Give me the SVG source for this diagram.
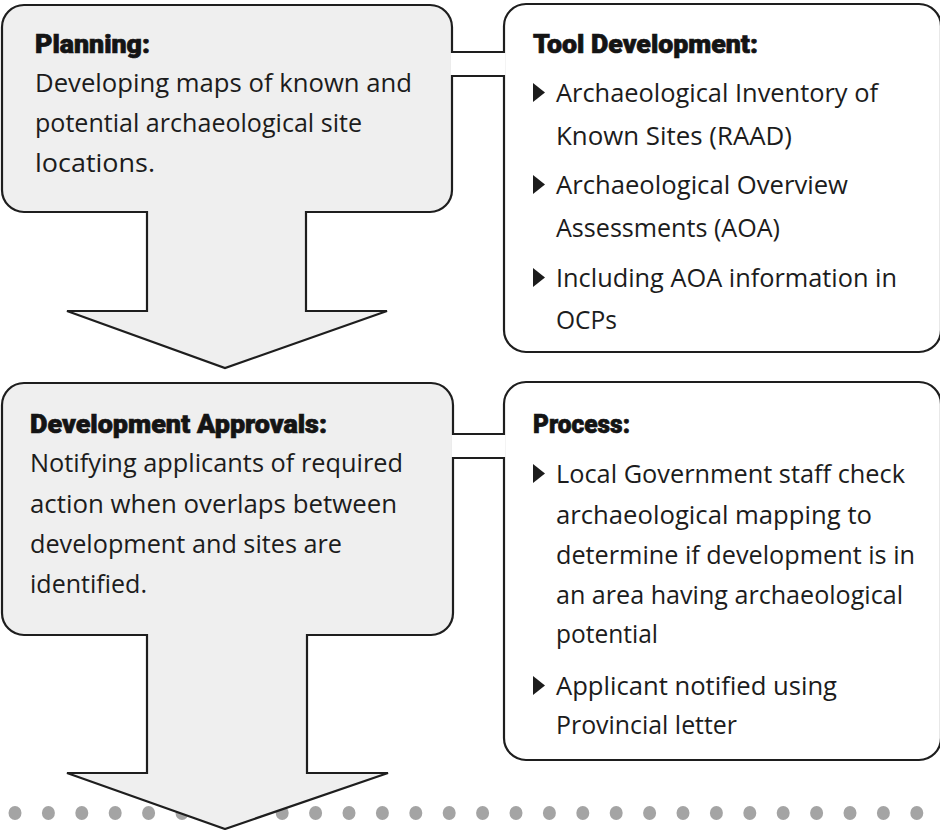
<svg xmlns="http://www.w3.org/2000/svg" width="940" height="830" viewBox="0 0 940 830">
  <style>
    .stage { fill: #efefef; stroke: #1e1e1e; stroke-width: 2.2; stroke-linejoin: miter; }
    .panel { fill: #ffffff; stroke: #1e1e1e; stroke-width: 2.2; }
    .channel { fill: #ffffff; stroke: none; }
    .link { stroke: #1e1e1e; stroke-width: 2.2; fill: none; }
    .dot { fill: #a4a4a4; }
    .head { font-family: Roboto, "Liberation Sans", sans-serif; font-weight: 900; font-size: 26px; fill: #141414; stroke: #141414; stroke-width: 0.7; }
    .body { font-family: "Open Sans", "Noto Sans", "Liberation Sans", sans-serif; font-size: 25.5px; fill: #1c1c1c; }
    .bullet { fill: #1c1c1c; }
  </style>

  <!-- dotted rule along the bottom -->
  <g id="dotted-rule">
    <ellipse class="dot" cx="15" cy="813" rx="6.5" ry="7"/>
    <ellipse class="dot" cx="48.4" cy="813" rx="6.5" ry="7"/>
    <ellipse class="dot" cx="81.8" cy="813" rx="6.5" ry="7"/>
    <ellipse class="dot" cx="115.2" cy="813" rx="6.5" ry="7"/>
    <ellipse class="dot" cx="148.6" cy="813" rx="6.5" ry="7"/>
    <ellipse class="dot" cx="182" cy="813" rx="6.5" ry="7"/>
    <ellipse class="dot" cx="215.4" cy="813" rx="6.5" ry="7"/>
    <ellipse class="dot" cx="248.8" cy="813" rx="6.5" ry="7"/>
    <ellipse class="dot" cx="282.2" cy="813" rx="6.5" ry="7"/>
    <ellipse class="dot" cx="315.6" cy="813" rx="6.5" ry="7"/>
    <ellipse class="dot" cx="349" cy="813" rx="6.5" ry="7"/>
    <ellipse class="dot" cx="382.4" cy="813" rx="6.5" ry="7"/>
    <ellipse class="dot" cx="415.8" cy="813" rx="6.5" ry="7"/>
    <ellipse class="dot" cx="449.2" cy="813" rx="6.5" ry="7"/>
    <ellipse class="dot" cx="482.6" cy="813" rx="6.5" ry="7"/>
    <ellipse class="dot" cx="516" cy="813" rx="6.5" ry="7"/>
    <ellipse class="dot" cx="549.4" cy="813" rx="6.5" ry="7"/>
    <ellipse class="dot" cx="582.8" cy="813" rx="6.5" ry="7"/>
    <ellipse class="dot" cx="616.2" cy="813" rx="6.5" ry="7"/>
    <ellipse class="dot" cx="649.6" cy="813" rx="6.5" ry="7"/>
    <ellipse class="dot" cx="683" cy="813" rx="6.5" ry="7"/>
    <ellipse class="dot" cx="716.4" cy="813" rx="6.5" ry="7"/>
    <ellipse class="dot" cx="749.8" cy="813" rx="6.5" ry="7"/>
    <ellipse class="dot" cx="783.2" cy="813" rx="6.5" ry="7"/>
    <ellipse class="dot" cx="816.6" cy="813" rx="6.5" ry="7"/>
    <ellipse class="dot" cx="850" cy="813" rx="6.5" ry="7"/>
    <ellipse class="dot" cx="883.4" cy="813" rx="6.5" ry="7"/>
    <ellipse class="dot" cx="916.8" cy="813" rx="6.5" ry="7"/>
  </g>

  <!-- Planning: box with its down arrow -->
  <g id="planning">
    <path class="stage" d="M24,5 H430 A22,22 0 0 1 452,27 V190 A22,22 0 0 1 430,212 H306 V311 H387 L225,368 L67,311 H147 V212 H24 A22,22 0 0 1 2,190 V27 A22,22 0 0 1 24,5 Z"/>
    <text class="head" x="35" y="53" textLength="115" lengthAdjust="spacingAndGlyphs">Planning:</text>
    <text class="body" x="35" y="92" textLength="377" lengthAdjust="spacingAndGlyphs">Developing maps of known and</text>
    <text class="body" x="35" y="132" textLength="327" lengthAdjust="spacingAndGlyphs">potential archaeological site</text>
    <text class="body" x="35" y="172" textLength="120" lengthAdjust="spacingAndGlyphs">locations.</text>
  </g>

  <!-- Development Approvals: box with its down arrow -->
  <g id="approvals">
    <path class="stage" d="M24,383 H431 A22,22 0 0 1 453,405 V613 A22,22 0 0 1 431,635 H307 V773 H388 L225,829 L67,773 H147 V635 H24 A22,22 0 0 1 2,613 V405 A22,22 0 0 1 24,383 Z"/>
    <text class="head" x="30" y="433" textLength="297" lengthAdjust="spacingAndGlyphs">Development Approvals:</text>
    <text class="body" x="30" y="472" textLength="373" lengthAdjust="spacingAndGlyphs">Notifying applicants of required</text>
    <text class="body" x="30" y="513" textLength="367" lengthAdjust="spacingAndGlyphs">action when overlaps between</text>
    <text class="body" x="30" y="553" textLength="312" lengthAdjust="spacingAndGlyphs">development and sites are</text>
    <text class="body" x="30" y="593" textLength="117" lengthAdjust="spacingAndGlyphs">identified.</text>
  </g>

  <!-- Tool Development: panel (runs off the right edge) -->
  <g id="tool-development">
    <rect class="panel" x="504" y="4" width="437" height="348" rx="22" ry="22"/>
    <text class="head" x="533" y="53" textLength="225" lengthAdjust="spacingAndGlyphs">Tool Development:</text>
    <polygon class="bullet" points="533,83 545,92.5 533,102"/>
    <text class="body" x="556" y="102" textLength="322" lengthAdjust="spacingAndGlyphs">Archaeological Inventory of</text>
    <text class="body" x="556" y="145" textLength="236" lengthAdjust="spacingAndGlyphs">Known Sites (RAAD)</text>
    <polygon class="bullet" points="533,175 545,184.5 533,194"/>
    <text class="body" x="556" y="194" textLength="292" lengthAdjust="spacingAndGlyphs">Archaeological Overview</text>
    <text class="body" x="556" y="237" textLength="224" lengthAdjust="spacingAndGlyphs">Assessments (AOA)</text>
    <polygon class="bullet" points="533,268 545,277.5 533,287"/>
    <text class="body" x="556" y="287" textLength="341" lengthAdjust="spacingAndGlyphs">Including AOA information in</text>
    <text class="body" x="556" y="329" textLength="61" lengthAdjust="spacingAndGlyphs">OCPs</text>
  </g>

  <!-- Process: panel (runs off the right edge) -->
  <g id="process">
    <rect class="panel" x="504" y="382" width="437" height="378" rx="22" ry="22"/>
    <text class="head" x="533" y="433" textLength="97" lengthAdjust="spacingAndGlyphs">Process:</text>
    <polygon class="bullet" points="533,464 545,473.5 533,483"/>
    <text class="body" x="556" y="483" textLength="349" lengthAdjust="spacingAndGlyphs">Local Government staff check</text>
    <text class="body" x="556" y="524" textLength="316" lengthAdjust="spacingAndGlyphs">archaeological mapping to</text>
    <text class="body" x="556" y="564" textLength="359" lengthAdjust="spacingAndGlyphs">determine if development is in</text>
    <text class="body" x="556" y="604" textLength="347" lengthAdjust="spacingAndGlyphs">an area having archaeological</text>
    <text class="body" x="556" y="643" textLength="102" lengthAdjust="spacingAndGlyphs">potential</text>
    <polygon class="bullet" points="533,676 545,685.5 533,695"/>
    <text class="body" x="556" y="695" textLength="281" lengthAdjust="spacingAndGlyphs">Applicant notified using</text>
    <text class="body" x="556" y="734" textLength="181" lengthAdjust="spacingAndGlyphs">Provincial letter</text>
  </g>

  <!-- channels joining each stage to its side panel -->
  <g id="connectors">
    <rect class="channel" x="450.5" y="53" width="55" height="22"/>
    <line class="link" x1="452" y1="52" x2="505" y2="52"/>
    <line class="link" x1="452" y1="76" x2="505" y2="76"/>
    <rect class="channel" x="451.5" y="435" width="54" height="22"/>
    <line class="link" x1="453" y1="434" x2="505" y2="434"/>
    <line class="link" x1="453" y1="458" x2="505" y2="458"/>
  </g>
</svg>
